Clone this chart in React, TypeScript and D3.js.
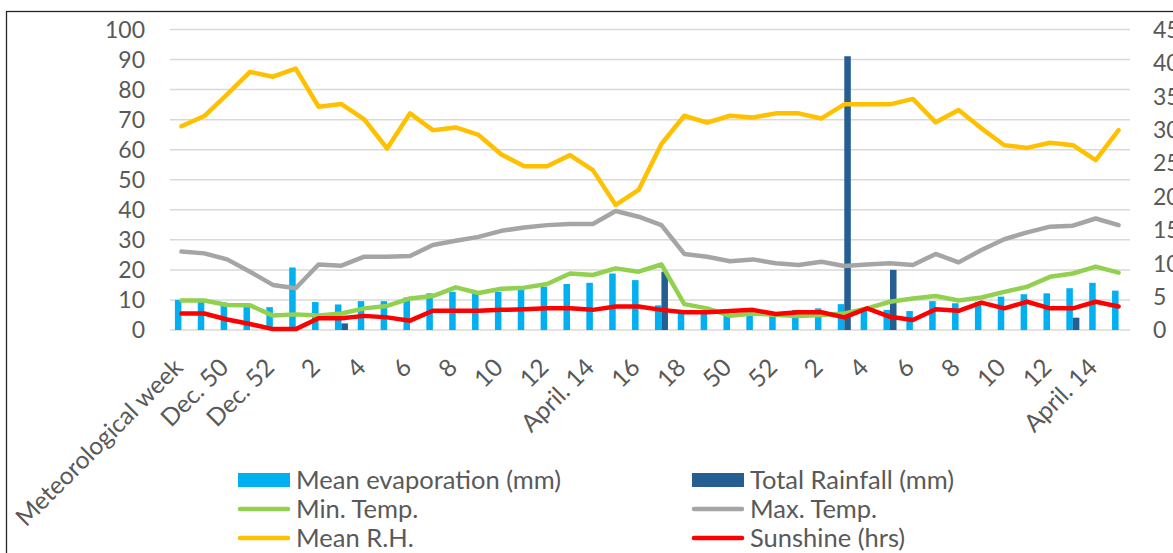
import React from 'react';
import * as d3 from 'd3';

const weeks = ["Meteorological week","49","Dec. 50","51","Dec. 52","1","2","3","4","5","6","7","8","9","10","11","12","13","April. 14","15","16","17","18","49","50","51","52","1","2","3","4","5","6","7","8","9","10","11","12","13","April. 14","15"];

const evaporation = [10.0, 9.4, 9.1, 8.5, 7.6, 20.8, 9.3, 8.5, 9.6, 9.6, 10.8, 12.2, 12.7, 12.2, 12.7, 13.3, 14.4, 15.3, 15.7, 18.8, 16.6, 8.2, 6.1, 6.1, 5.0, 5.5, 5.0, 6.7, 7.2, 8.6, 6.3, 6.7, 6.3, 9.6, 8.9, 9.4, 11.1, 11.9, 12.2, 13.9, 15.7, 13.1];
const rainfall = [0, 0, 0, 0, 0, 0, 0, 2.2, 0, 0, 0, 0, 0, 0, 0, 0, 0, 0, 0, 0, 0, 19.4, 0, 0, 0, 0, 0, 0, 0, 91.1, 0, 20.0, 0, 0, 0, 0, 0, 0, 0, 4.1, 0, 0];
const minTemp = [9.8, 9.8, 8.3, 8.2, 4.8, 5.2, 4.8, 5.5, 7.2, 8.0, 10.5, 11.3, 14.2, 12.3, 13.7, 14.1, 15.3, 18.8, 18.3, 20.5, 19.4, 21.8, 8.6, 7.2, 4.7, 5.5, 5.0, 4.7, 5.0, 5.5, 7.2, 9.4, 10.5, 11.3, 9.8, 10.8, 12.7, 14.4, 17.7, 18.8, 21.1, 19.1];
const maxTemp = [26.1, 25.5, 23.5, 19.4, 15.0, 13.9, 21.8, 21.4, 24.4, 24.4, 24.6, 28.3, 29.7, 31.0, 33.0, 34.1, 34.9, 35.3, 35.3, 39.6, 37.7, 34.9, 25.3, 24.4, 22.9, 23.5, 22.2, 21.6, 22.7, 21.3, 21.8, 22.2, 21.6, 25.3, 22.5, 26.6, 30.2, 32.5, 34.4, 34.7, 37.1, 34.9];
const meanRH = [67.8, 71.2, 78.4, 85.9, 84.3, 87.0, 74.3, 75.2, 70.1, 60.4, 72.1, 66.5, 67.4, 64.9, 58.4, 54.5, 54.5, 58.2, 53.2, 41.6, 46.6, 61.9, 71.3, 69.0, 71.3, 70.7, 72.1, 72.1, 70.4, 75.1, 75.1, 75.1, 76.9, 69.1, 73.2, 67.1, 61.5, 60.6, 62.3, 61.5, 56.5, 66.5];
const sunshine = [5.5, 5.5, 3.5, 2.0, 0.3, 0.3, 3.9, 3.9, 4.7, 4.2, 3.1, 6.4, 6.4, 6.4, 6.7, 6.9, 7.2, 7.2, 6.7, 7.8, 7.8, 6.7, 5.9, 5.9, 6.3, 6.7, 5.3, 5.9, 5.9, 4.2, 7.2, 4.4, 3.3, 6.9, 6.4, 9.1, 7.2, 9.4, 7.2, 7.2, 9.4, 7.8];

const leftTicks = [0, 10, 20, 30, 40, 50, 60, 70, 80, 90, 100];
const rightTicks = [0, 5, 10, 15, 20, 25, 30, 35, 40, 45];

const lineSeries = [
  { name: "Min. Temp.", values: minTemp, color: "#92D050" },
  { name: "Max. Temp.", values: maxTemp, color: "#A5A5A5" },
  { name: "Mean R.H.", values: meanRH, color: "#FFC000" },
  { name: "Sunshine (hrs)", values: sunshine, color: "#FF0000" },
];

const legendItems = [
  { name: "Mean evaporation (mm)", color: "#00B0F0", type: "bar" },
  { name: "Total Rainfall (mm)", color: "#255E91", type: "bar" },
  { name: "Min. Temp.", color: "#92D050", type: "line" },
  { name: "Max. Temp.", color: "#A5A5A5", type: "line" },
  { name: "Mean R.H.", color: "#FFC000", type: "line" },
  { name: "Sunshine (hrs)", color: "#FF0000", type: "line" },
];

const FONT = "Lato, 'Noto Sans', sans-serif";
const TXT = "#595959";

export default function App() {
  const W = 1173, H = 553;
  const x = d3.scaleBand<number>().domain(d3.range(weeks.length)).range([170, 1130]);
  const y = d3.scaleLinear().domain([0, 100]).range([330, 29.5]);
  const yR = d3.scaleLinear().domain([0, 45]).range([330, 29.5]);
  const bw = x.bandwidth();
  const barW = bw * 0.285;
  const cx = (i: number) => (x(i) as number) + bw / 2;
  const line = d3.line<number>().x((_, i) => cx(i)).y(v => y(v));

  return (
    <svg width={W} height={H} style={{ position: 'absolute', left: 0, top: 0, background: '#fff' }} fontFamily={FONT}>
      <rect x={0} y={0} width={W} height={H} fill="#fff" />
      <rect x={6.5} y={11.5} width={1300} height={700} fill="none" stroke="#262626" strokeWidth={1.3} />
      {leftTicks.map(t => (
        <line key={'g' + t} x1={170} x2={1130} y1={y(t)} y2={y(t)} stroke="#D9D9D9" strokeWidth={1.5} />
      ))}
      {leftTicks.map(t => (
        <text key={'l' + t} x={145} y={y(t)} dy="0.36em" textAnchor="end" fontSize={23} fill={TXT}>{t}</text>
      ))}
      {rightTicks.map(t => (
        <text key={'r' + t} x={1153} y={yR(t)} dy="0.36em" textAnchor="start" fontSize={23} fill={TXT}>{t}</text>
      ))}
      {evaporation.map((v, i) => (
        <rect key={'e' + i} x={cx(i) - barW} y={y(v)} width={barW} height={y(0) - y(v)} fill="#00B0F0" />
      ))}
      {rainfall.map((v, i) => v > 0 ? (
        <rect key={'r' + i} x={cx(i)} y={y(v)} width={barW} height={y(0) - y(v)} fill="#255E91" />
      ) : null)}
      {lineSeries.map(s => (
        <path key={s.name} d={line(s.values) || ''} fill="none" stroke={s.color} strokeWidth={4.5} strokeLinejoin="round" strokeLinecap="round" />
      ))}
      {weeks.map((w, i) => i % 2 === 0 ? (
        <text key={'x' + i} transform={`translate(${cx(i) + 3},${369}) rotate(-45)`} textAnchor="end" fontSize={24.5} fill={TXT}>{w}</text>
      ) : null)}
      {legendItems.map((it, k) => {
        const col = k % 2, row = Math.floor(k / 2);
        const lx = col === 0 ? 238 : 692;
        const ly = 480 + row * 29;
        return (
          <g key={it.name}>
            {it.type === 'bar'
              ? <rect x={lx} y={ly - 7} width={52} height={14} fill={it.color} />
              : <line x1={lx + 2} x2={lx + 50} y1={ly} y2={ly} stroke={it.color} strokeWidth={4.5} strokeLinecap="round" />}
            <text x={lx + 58} y={ly} dy="0.36em" fontSize={25.5} fill={TXT}>{it.name}</text>
          </g>
        );
      })}
    </svg>
  );
}
